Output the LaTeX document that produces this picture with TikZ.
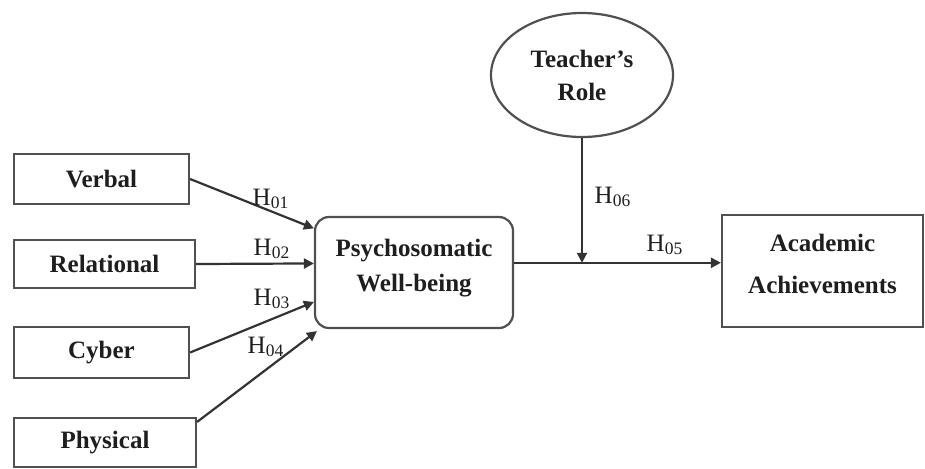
\documentclass[tikz,border=0pt]{standalone}
\usepackage{fontspec}
\setmainfont{Liberation Serif}
\usetikzlibrary{arrows.meta, positioning, calc, shapes.geometric}
\definecolor{inkline}{HTML}{333333}
\definecolor{inkbox}{HTML}{505050}
\definecolor{inktext}{HTML}{1E1E1E}

\begin{document}
\begin{tikzpicture}[x=0.5pt, y=-0.5pt,
    varbox/.style={draw=inkbox, line width=1.1pt, fill=white, inner sep=0pt,
      font=\fontsize{12.5}{17.5}\selectfont\bfseries, text=inktext, align=center},
    hlabel/.style={font=\fontsize{12.5}{15}\selectfont, text=inktext, inner sep=1pt},
    link/.style={draw=inkline, line width=1.1pt, -{Triangle[length=5pt, width=5pt]}}]
  \useasboundingbox (0,0) rectangle (925,468);
  \fill[white] (0,0) rectangle (925,468);
  % bullying forms
  \node[varbox, minimum width=87.5pt, minimum height=25pt] (verbal) at (101.5,179) {Verbal};
  \node[varbox, minimum width=90.5pt, minimum height=24pt] (relational) at (104.5,264) {Relational};
  \node[varbox, minimum width=87.5pt, minimum height=25.5pt] (cyber) at (101.5,352.5) {Cyber};
  \node[varbox, minimum width=91pt, minimum height=24.5pt] (physical) at (105,442.5) {Physical};
  % mediator, moderator, outcome
  \node[varbox, rounded corners=7pt, minimum width=99pt, minimum height=55.5pt]
    (psw) at (414,272.5) {Psychosomatic\\Well-being\\[-10.5pt]};
  \node[varbox, ellipse, minimum width=91pt, minimum height=62pt,
    font=\fontsize{12.5}{16.5}\selectfont\bfseries] (teacher) at (582,75) {Teacher’s\\Role};
  \node[varbox, minimum width=100.5pt, minimum height=56pt,
    font=\fontsize{12.5}{21}\selectfont\bfseries] (acad) at (822.5,271) {Academic\\Achievements\\[-14pt]};
  % arrow ends on the mediator
  \coordinate (in1) at ($(psw.north west)!0.11!(psw.south west)$);
  \coordinate (in2) at ($(psw.north west)!0.42!(psw.south west)$);
  \coordinate (in3) at ($(psw.north west)!0.76!(psw.south west)$);
  \coordinate (in4) at ($(psw.south west)+(3,2)$);
  \coordinate (pswout) at ($(psw.north east)!0.414!(psw.south east)$);
  \draw[link] (verbal.east) -- (in1);
  \draw[link] (relational.east) -- (in2);
  \draw[link] (cyber.east) -- (in3);
  \draw[link] ($(physical.north east)+(0,5)$) -- (in4);
  \draw[link] (pswout) -- (pswout -| acad.west);
  \draw[link] (teacher.south) -- (teacher.south |- pswout);
  % hypotheses
  \node[hlabel] (h01) at (271,199) {H\textsubscript{01}};
  \node[hlabel] (h02) at (272,249) {H\textsubscript{02}};
  \node[hlabel] (h03) at (272,299) {H\textsubscript{03}};
  \node[hlabel] (h04) at (266,347) {H\textsubscript{04}};
  \node[hlabel] (h05) at (665,245) {H\textsubscript{05}};
  \node[hlabel] (h06) at (613,197) {H\textsubscript{06}};
\end{tikzpicture}
\end{document}
